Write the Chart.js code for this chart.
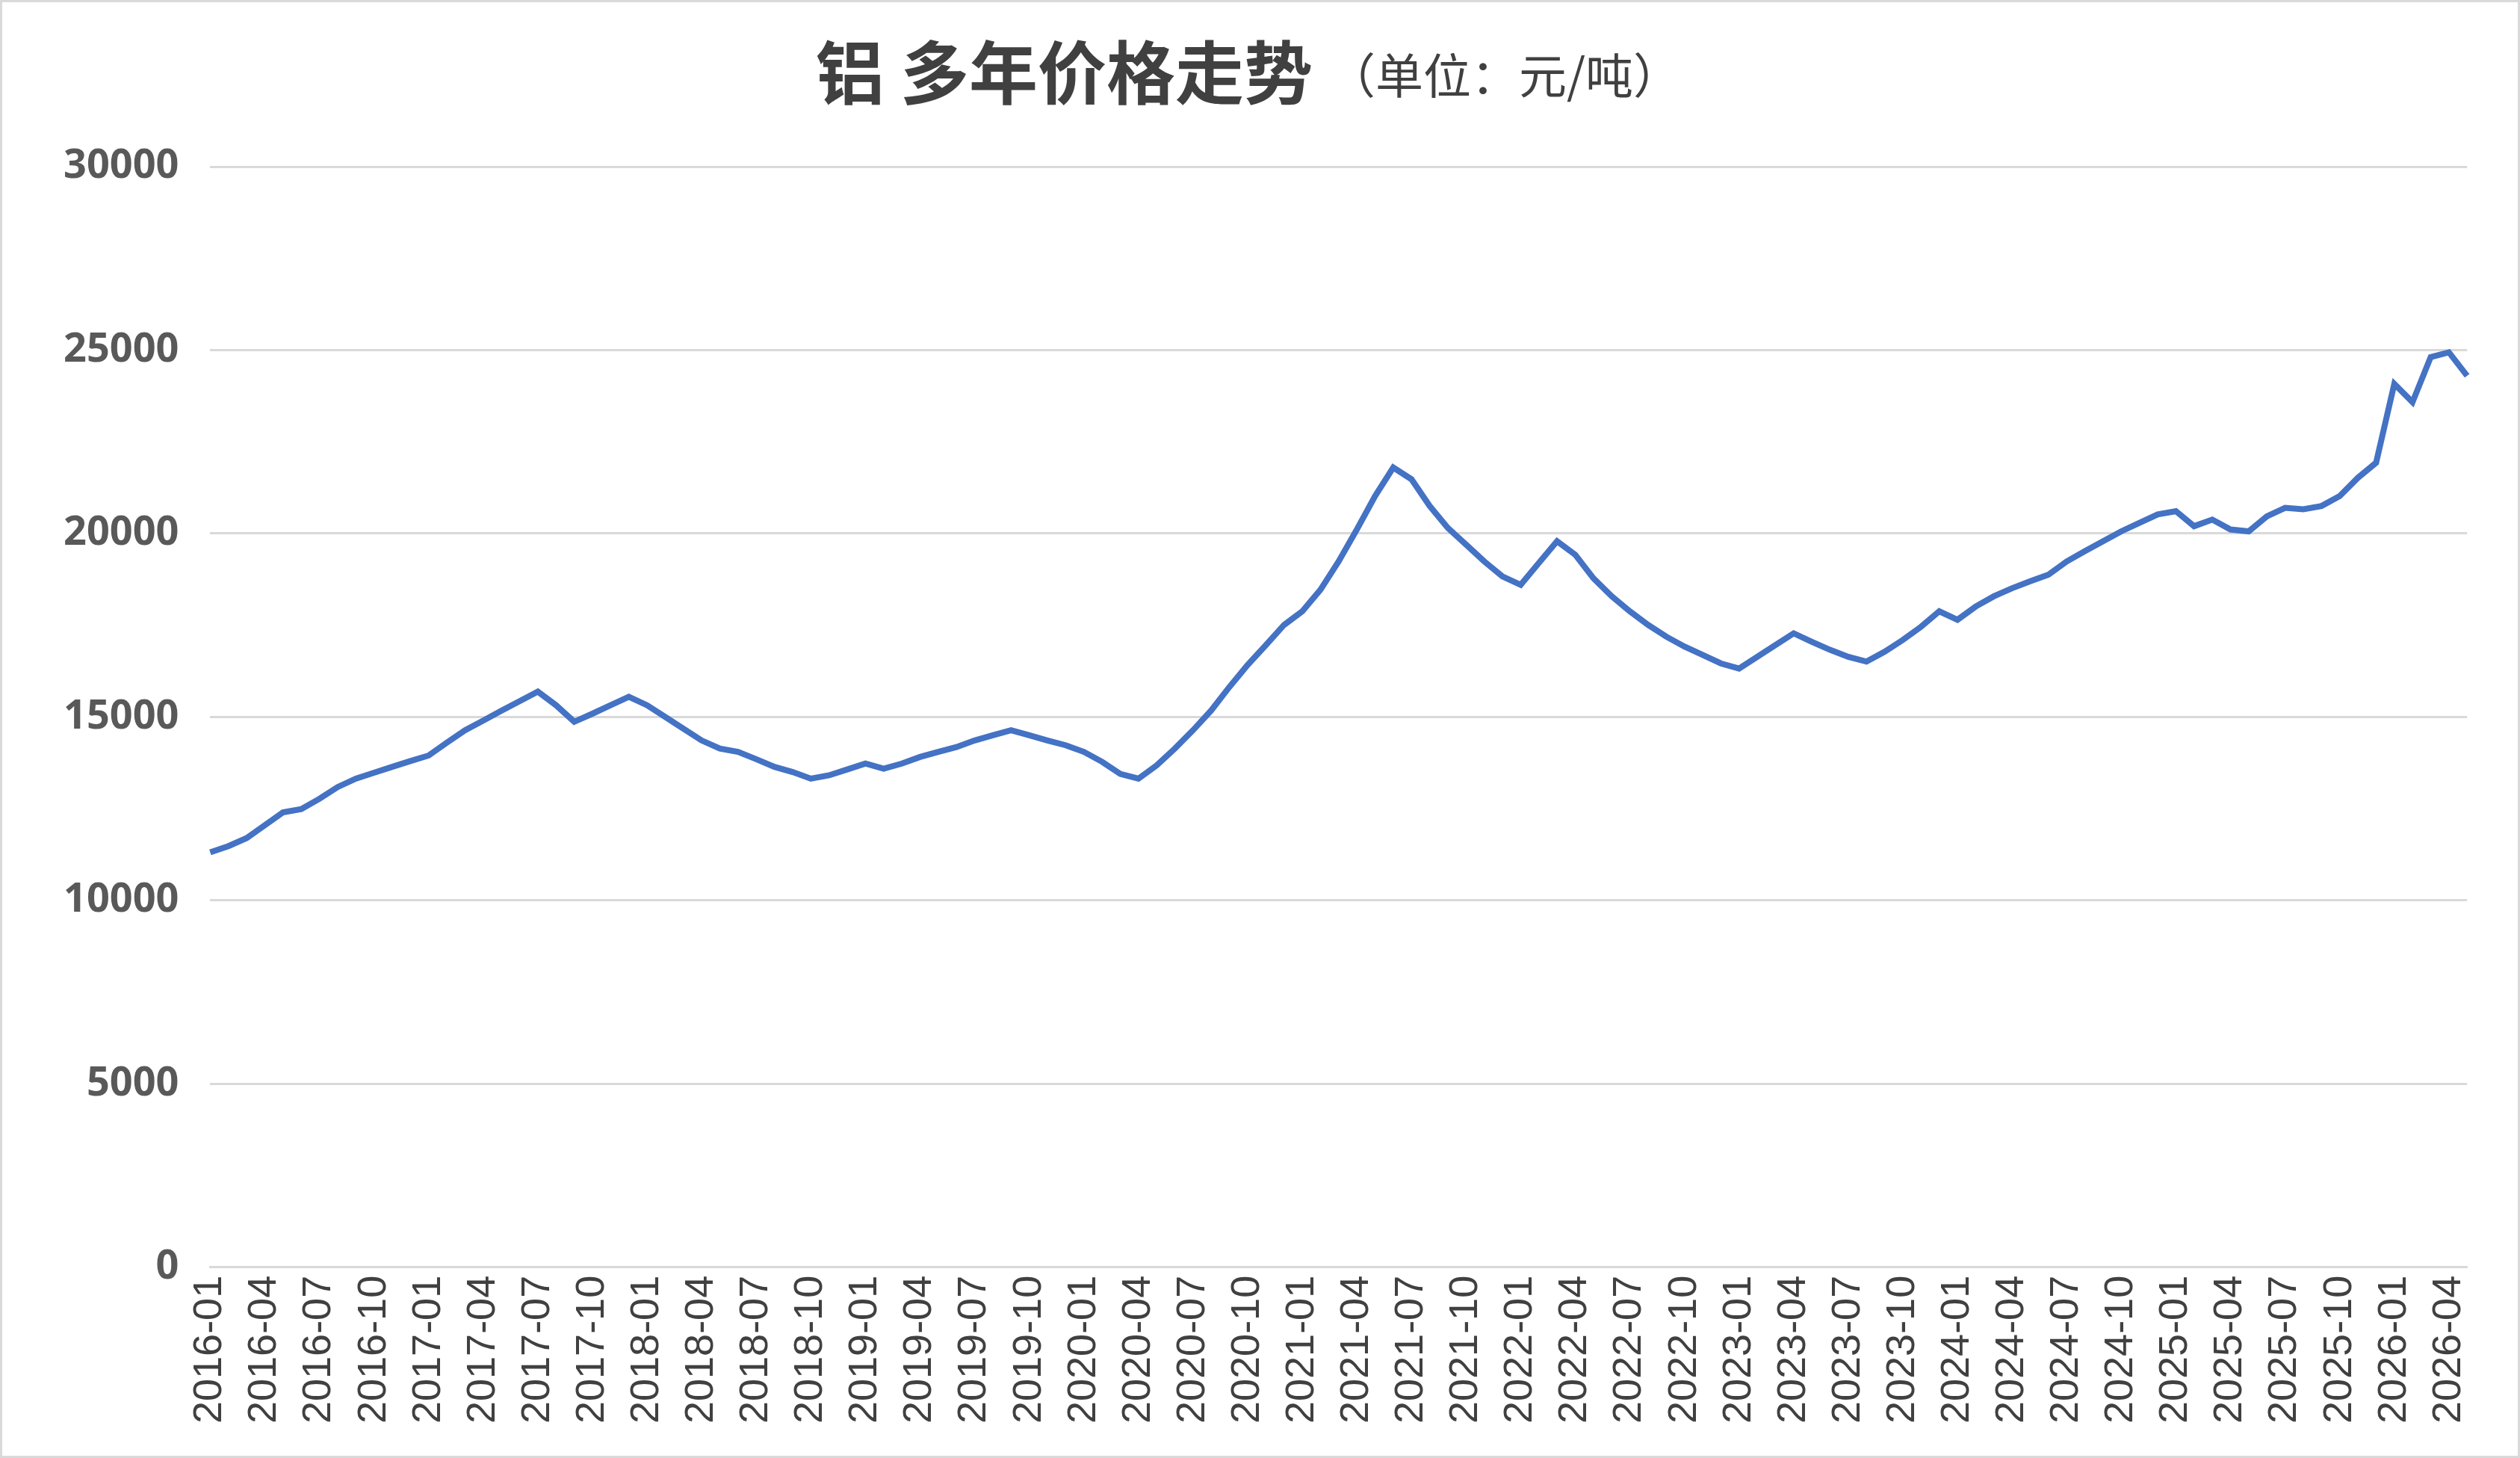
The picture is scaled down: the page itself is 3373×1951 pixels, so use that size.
<!DOCTYPE html>
<html>
<head>
<meta charset="utf-8">
<script src="https://cdn.jsdelivr.net/npm/chart.js@4.4.1/dist/chart.umd.min.js"></script>
<style>
  html, body { margin: 0; padding: 0; background: #fff; }
  #wrap { width: 3373px; height: 1951px; position: relative; box-sizing: border-box; border: 3px solid #d9d9d9; }
</style>
</head>
<body>
<div id="wrap"><canvas id="chart"></canvas></div>
<script>
const titleMain = '铝 多年价格走势';
const titleUnit = '（单位：元/吨）';

const months = [];
for (let y = 2016; y <= 2026; y++) {
    for (let m = 1; m <= 12; m++) {
        if (y === 2026 && m > 5) break;
        months.push(y + '-' + String(m).padStart(2, '0'));
    }
}

const prices = [
    11310, 11480, 11700, 12050, 12400, 12490, 12770, 13090, 13320, 13480, 13640, 13800,
    13950, 14300, 14640, 14900, 15170, 15430, 15690, 15320, 14870, 15090, 15320, 15550,
    15320, 15000, 14680, 14360, 14140, 14050, 13850, 13640, 13500, 13320, 13410, 13570,
    13730, 13590, 13730, 13910, 14050, 14180, 14360, 14500, 14640, 14500, 14360, 14230,
    14050, 13780, 13450, 13320, 13680, 14140, 14640, 15180, 15820, 16420, 16960, 17510,
    17880, 18470, 19240, 20110, 21020, 21800, 21480, 20750, 20150, 19700, 19240, 18830,
    18600, 19200, 19790, 19420, 18780, 18290, 17880, 17510, 17190, 16920, 16690, 16460,
    16320, 16640, 16960, 17280, 17050, 16830, 16640, 16510, 16780, 17100, 17460, 17880,
    17650, 18010, 18290, 18510, 18700, 18880, 19240, 19520, 19790, 20060, 20290, 20520,
    20610, 20200, 20380, 20110, 20060, 20470, 20700, 20660, 20750, 21020, 21520, 21930,
    24080, 23580, 24810, 24940, 24300
];

const yTicks = [0, 5000, 10000, 15000, 20000, 25000, 30000];

const titlePlugin = {
    id: 'titlePlugin',
    afterDraw(chart) {
        const ctx = chart.ctx;
        ctx.save();
        ctx.textBaseline = 'middle';
        ctx.fillStyle = '#404040';
        const mainFont = 'bold 92px "Noto Sans CJK SC"';
        const unitFont = '64px "Noto Sans CJK SC"';
        ctx.font = mainFont;
        const w1 = ctx.measureText(titleMain).width;
        ctx.font = unitFont;
        const w2 = ctx.measureText(titleUnit).width;
        const gap = 20;
        const start = 1668 - (w1 + gap + w2) / 2;
        ctx.font = mainFont;
        ctx.fillText(titleMain, start, 94);
        ctx.font = unitFont;
        ctx.fillText(titleUnit, start + w1 + gap, 98);
        ctx.restore();
    }
};

new Chart(document.getElementById('chart'), {
    type: 'line',
    data: {
        labels: months,
        datasets: [{
            data: prices,
            borderColor: '#4472C4',
            borderWidth: 8,
            pointRadius: 0,
            tension: 0,
            fill: false
        }]
    },
    options: {
        responsive: true,
        maintainAspectRatio: false,
        devicePixelRatio: 1,
        animation: false,
        layout: { padding: { top: 220, left: 40, right: 50, bottom: 40 } },
        plugins: { legend: { display: false }, tooltip: { enabled: false } },
        scales: {
            x: {
                offset: false,
                grid: { display: false },
                border: { color: '#d9d9d9', width: 3 },
                ticks: {
                    autoSkip: false,
                    maxRotation: 90,
                    minRotation: 90,
                    color: '#404040',
                    font: { size: 54, family: 'Liberation Sans, Arial' },
                    callback: (val, idx) => idx % 3 === 0 ? months[idx] : ''
                }
            },
            y: {
                min: 0,
                max: 30000,
                afterBuildTicks: axis => { axis.ticks = yTicks.map(v => ({ value: v })); },
                grid: { color: '#d9d9d9', lineWidth: 3, drawTicks: false },
                border: { display: false },
                ticks: {
                    padding: 42,
                    color: '#595959',
                    font: { size: 54, weight: 'bold', family: 'Open Sans, Liberation Sans' },
                    callback: v => String(v)
                }
            }
        }
    },
    plugins: [titlePlugin]
});
</script>
</body>
</html>
